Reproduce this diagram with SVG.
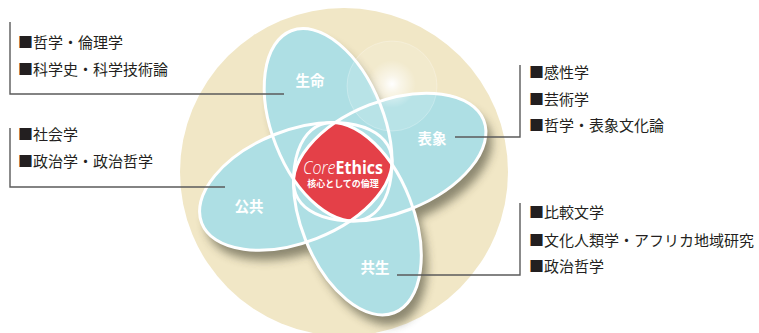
<svg xmlns="http://www.w3.org/2000/svg" width="759" height="333" viewBox="0 0 759 333">
<defs>
<style>
.lbl{font-family:"Noto Sans CJK JP","Noto Sans",sans-serif;font-size:15px;fill:#231f20}
.et{font-family:"Noto Sans CJK JP","Noto Sans",sans-serif;font-size:14.5px;font-weight:700;fill:#ffffff;text-anchor:middle}
.fl{fill:#aedfe4}
.ol{fill:none;stroke:#ffffff;stroke-width:3}
.ln{stroke:#5b5b5b;stroke-width:1.4;fill:none}
</style>
<ellipse id="e1" cx="328.1" cy="124.8" rx="101" ry="56" transform="rotate(68.6 328.1 124.8)"/>
<ellipse id="e2" cx="389.7" cy="157.1" rx="101" ry="56" transform="rotate(-21.4 389.7 157.1)"/>
<ellipse id="e3" cx="357.4" cy="218.7" rx="101" ry="56" transform="rotate(68.6 357.4 218.7)"/>
<ellipse id="e4" cx="295.8" cy="186.4" rx="101" ry="56" transform="rotate(-21.4 295.8 186.4)"/>
<clipPath id="c2"><use href="#e2"/></clipPath>
<clipPath id="c3"><use href="#e3"/></clipPath>
<clipPath id="c4"><use href="#e4"/></clipPath>
<filter id="sh" x="-20%" y="-20%" width="140%" height="140%"><feGaussianBlur stdDeviation="5"/></filter>
<radialGradient id="glow" cx="0.5" cy="0.5" r="0.5">
<stop offset="0" stop-color="#ffffff" stop-opacity="1"/>
<stop offset="0.35" stop-color="#ffffff" stop-opacity="0.55"/>
<stop offset="1" stop-color="#ffffff" stop-opacity="0"/>
</radialGradient>
</defs>

<circle id="backdrop" cx="344" cy="172" r="164" fill="#f1e7c6"/>

<g id="shadow" transform="translate(6,10)" filter="url(#sh)" fill="#3a3a2a" opacity="0.55">
<use href="#e1"/><use href="#e2"/><use href="#e3"/><use href="#e4"/>
</g>

<g id="ellipse-fills" class="fl">
<use href="#e1"/><use href="#e2"/><use href="#e3"/><use href="#e4"/>
</g>

<g id="light">
<circle cx="392" cy="86" r="45" fill="#ffffff" fill-opacity="0.13" stroke="#ffffff" stroke-opacity="0.25" stroke-width="1"/>
<circle cx="392" cy="84" r="24" fill="url(#glow)"/>
</g>

<g id="core-fill" clip-path="url(#c2)"><g clip-path="url(#c3)"><g clip-path="url(#c4)">
<use href="#e1" fill="#e44048"/>
</g></g></g>

<g id="node-seimei">
<use href="#e1" class="ol"/>
<text class="et" x="310" y="85.5">生命</text>
</g>
<g id="node-hyosho">
<use href="#e2" class="ol"/>
<text class="et" x="432" y="143.5">表象</text>
</g>
<g id="node-kyosei">
<use href="#e3" class="ol"/>
<text class="et" x="375" y="272.5">共生</text>
</g>
<g id="node-kokyo">
<use href="#e4" class="ol"/>
<text class="et" x="249" y="211.5">公共</text>
</g>

<g id="node-core">
<text x="303" y="174" textLength="80" lengthAdjust="spacingAndGlyphs" font-family="'Open Sans','Noto Sans',sans-serif" font-size="17.5" fill="#ffffff"><tspan font-style="italic" font-weight="300">Core</tspan><tspan font-weight="700">Ethics</tspan></text>
<text x="343" y="186.5" text-anchor="middle" font-family="'Noto Sans CJK JP',sans-serif" font-size="9" font-weight="700" fill="#ffffff">核心としての倫理</text>
</g>

<g id="connectors" class="ln">
<polyline points="10,22 10,94 284,94"/>
<polyline points="10,128 10,187 225,187"/>
<polyline points="520,65 520,137 455,137"/>
<polyline points="520,203 520,275 397,275"/>
</g>

<g id="list-seimei" class="lbl">
<text x="18" y="47.5">■哲学・倫理学</text>
<text x="18" y="74.5">■科学史・科学技術論</text>
</g>
<g id="list-kokyo" class="lbl">
<text x="18" y="139.5">■社会学</text>
<text x="18" y="166.5">■政治学・政治哲学</text>
</g>
<g id="list-hyosho" class="lbl">
<text x="529" y="78">■感性学</text>
<text x="529" y="105">■芸術学</text>
<text x="529" y="130.5">■哲学・表象文化論</text>
</g>
<g id="list-kyosei" class="lbl">
<text x="529" y="218">■比較文学</text>
<text x="529" y="245.5">■文化人類学・アフリカ地域研究</text>
<text x="529" y="272">■政治哲学</text>
</g>
</svg>
